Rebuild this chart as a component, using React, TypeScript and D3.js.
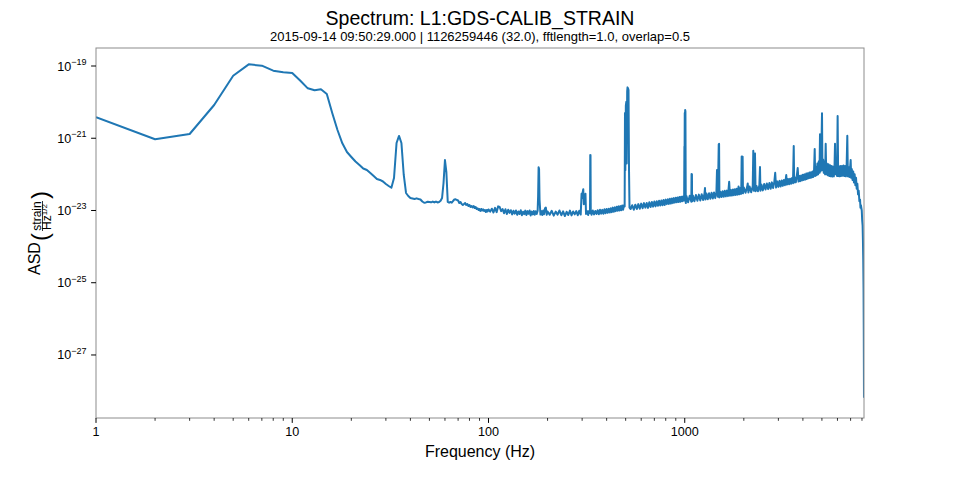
import React from 'react';
import * as d3 from 'd3';

const titleText = 'Spectrum: L1:GDS-CALIB_STRAIN';
const subtitleText = '2015-09-14 09:50:29.000 | 1126259446 (32.0), fftlength=1.0, overlap=0.5';
const xLabelText = 'Frequency (Hz)';
const xMajorTicks = [1, 10, 100, 1000];
const xTickLabels = ['1', '10', '100', '1000'];
const yTickExponents = [-19, -21, -23, -25, -27];
const xLimits = [1, 8192];
const yLimits = [1.8e-29, 3.15e-19];

// 1–100 Hz (1 Hz bins)
const seismicBand: [number, number][] = [
  [1, 3.8e-21], [2, 9.35e-22], [3, 1.31e-21], [4, 8.32e-21], [5, 5.39e-20], [6, 1.11e-19], [7, 1.02e-19],
  [8, 7.41e-20], [9, 6.69e-20], [10, 6.4e-20], [11, 3.92e-20], [12, 2.41e-20], [13, 2.12e-20], [14, 2.26e-20],
  [15, 1.68e-20], [16, 4.91e-21], [17, 1.69e-21], [18, 7.25e-22], [19, 4.16e-22], [20, 3.03e-22], [21, 2.27e-22],
  [22, 1.82e-22], [23, 1.45e-22], [24, 1.32e-22], [25, 1.09e-22], [26, 9.0e-23], [27, 7.45e-23], [28, 7.0e-23],
  [29, 6.35e-23], [30, 5.41e-23], [31, 4.77e-23], [32, 4.28e-23], [33, 7.94e-23], [34, 7.4e-22], [35, 1.16e-21],
  [36, 7.4e-22], [37, 9.61e-23], [38, 3.05e-23], [39, 2.52e-23], [40, 2.22e-23], [41, 2.15e-23], [42, 2.08e-23],
  [43, 2.17e-23], [44, 2.08e-23], [45, 2.02e-23], [46, 1.77e-23], [47, 1.64e-23], [48, 1.67e-23], [49, 1.75e-23],
  [50, 1.72e-23], [51, 1.68e-23], [52, 1.77e-23], [53, 1.67e-23], [54, 1.77e-23], [55, 1.67e-23], [56, 1.72e-23],
  [57, 1.87e-23], [58, 2.22e-23], [59, 5.77e-23], [60, 2.5e-22], [61, 1.16e-22], [62, 1.72e-23], [63, 1.64e-23],
  [64, 1.72e-23], [65, 1.64e-23], [66, 1.83e-23], [67, 2.02e-23], [68, 2.05e-23], [69, 1.95e-23], [70, 1.89e-23],
  [71, 1.61e-23], [72, 1.72e-23], [73, 1.51e-23], [74, 1.42e-23], [75, 1.51e-23], [76, 1.61e-23], [77, 1.42e-23],
  [78, 1.51e-23], [79, 1.33e-23], [80, 1.42e-23], [81, 1.25e-23], [82, 1.33e-23], [83, 1.21e-23], [84, 1.33e-23],
  [85, 1.17e-23], [86, 1.25e-23], [87, 1.1e-23], [88, 1.15e-23], [89, 1.03e-23], [90, 1.1e-23], [91, 9.7e-24],
  [92, 1.1e-23], [93, 1.0e-23], [94, 1.07e-23], [95, 9.7e-24], [96, 1.03e-23], [97, 9.1e-24], [98, 1.03e-23],
  [99, 9.4e-24], [100, 1.07e-23],
];

// 100–500 Hz
const midBand: [number, number][] = [
  [102, 9.3e-24], [104, 1.12e-23], [106, 8.8e-24], [108, 1.18e-23], [110, 9.0e-24], [112, 1.3e-23], [114, 1.25e-23],
  [116, 9.6e-24], [118, 1.1e-23], [120, 8.4e-24], [122, 1.08e-23], [124, 8.0e-24], [126, 1.05e-23], [128, 8.6e-24],
  [130, 1.02e-23], [132, 7.8e-24], [134, 9.8e-24], [136, 8.2e-24], [138, 1.0e-23], [140, 7.6e-24], [142, 9.4e-24],
  [144, 8.0e-24], [146, 1.02e-23], [148, 7.4e-24], [150, 9.2e-24], [152, 7.9e-24], [154, 9.9e-24], [156, 7.5e-24],
  [158, 9.6e-24], [160, 8.1e-24], [162, 1.0e-23], [164, 7.3e-24], [166, 9.3e-24], [168, 7.8e-24], [170, 9.7e-24],
  [172, 7.6e-24], [174, 9.5e-24], [176, 8.0e-24], [178, 9.8e-24], [179, 2.5e-23], [180, 1.57e-22], [181, 1.4e-22],
  [182, 2.0e-23], [184, 7.7e-24], [186, 9.6e-24], [188, 7.5e-24], [190, 1.0e-23], [192, 7.9e-24], [194, 1.15e-23],
  [196, 1.2e-23], [198, 7.6e-24], [200, 9.4e-24], [205, 7.6e-24], [210, 9.8e-24], [215, 7.2e-24], [220, 9.3e-24],
  [225, 7.7e-24], [230, 1.0e-23], [235, 7.4e-24], [240, 9.5e-24], [245, 7.0e-24], [250, 9.2e-24], [255, 7.5e-24],
  [260, 9.9e-24], [265, 7.3e-24], [270, 9.4e-24], [275, 7.8e-24], [280, 9.6e-24], [285, 7.4e-24], [290, 9.8e-24],
  [295, 7.7e-24], [298, 2.9e-23], [300, 2.2e-23], [302, 3.2e-23], [304, 3.9e-23], [306, 1.5e-23], [308, 1.95e-23],
  [310, 2.5e-23], [312, 2.9e-23], [314, 8.0e-24], [318, 9.6e-24], [322, 7.5e-24], [326, 9.9e-24], [329, 8.5e-24],
  [330, 3.44e-22], [331, 3.4e-22], [332, 9.0e-24], [335, 7.6e-24], [340, 1.0e-23], [345, 7.8e-24], [350, 9.7e-24],
  [355, 8.0e-24], [360, 1.02e-23], [365, 7.9e-24], [370, 1.05e-23], [375, 8.2e-24], [380, 1.04e-23], [385, 8.1e-24],
  [390, 1.08e-23], [395, 8.4e-24], [400, 1.1e-23], [405, 8.6e-24], [410, 1.12e-23], [415, 8.8e-24], [420, 1.15e-23],
  [425, 9.0e-24], [430, 1.2e-23], [435, 9.2e-24], [440, 1.22e-23], [445, 9.6e-24], [450, 1.27e-23], [455, 9.8e-24],
  [460, 1.3e-23], [465, 1.0e-23], [470, 1.32e-23], [475, 1.02e-23], [480, 1.38e-23], [485, 1.05e-23], [490, 1.4e-23],
  [494, 1.3e-23],
];

// violin modes ~500 Hz and 500–1000 Hz
const violinBand: [number, number][] = [
  [496, 5.0e-21], [498, 1.3e-22], [501, 8.0e-21], [504, 1.03e-20], [506, 2.0e-22], [509, 2.0e-20], [511, 2.56e-20],
  [514, 2.4e-20], [517, 2.17e-20], [520, 1.32e-22], [523, 1.2e-23], [530, 1.1e-23], [540, 1.4e-23], [550, 1.05e-23],
  [560, 1.45e-23], [570, 1.1e-23], [580, 1.5e-23], [590, 1.12e-23], [600, 1.55e-23], [610, 1.15e-23], [620, 1.6e-23],
  [630, 1.2e-23], [640, 1.62e-23], [650, 1.18e-23], [660, 1.7e-23], [670, 1.25e-23], [680, 1.72e-23], [690, 1.28e-23],
  [700, 1.78e-23], [710, 1.3e-23], [720, 1.8e-23], [730, 1.35e-23], [740, 1.85e-23], [750, 1.38e-23], [760, 1.9e-23],
  [770, 1.4e-23], [780, 1.95e-23], [790, 1.42e-23], [800, 2.0e-23], [810, 1.5e-23], [820, 2.05e-23], [830, 1.52e-23],
  [840, 2.1e-23], [850, 1.55e-23], [860, 2.15e-23], [870, 1.6e-23], [880, 2.2e-23], [890, 1.65e-23], [900, 2.25e-23],
  [910, 1.68e-23], [920, 2.3e-23], [930, 1.72e-23], [940, 2.35e-23], [950, 1.75e-23], [960, 2.4e-23], [970, 1.8e-23],
  [980, 2.45e-23], [990, 1.85e-23], [993, 1.9e-23], [996, 5.9e-22], [998, 3.0e-22], [1000, 5.0e-21], [1002, 3.0e-21],
  [1005, 6.05e-21], [1008, 5.5e-21], [1012, 1.6e-23],
];

// 1–2 kHz
const kiloBand: [number, number][] = [
  [1020, 2.5e-23], [1040, 1.7e-23], [1060, 2.55e-23], [1080, 1.75e-23], [1083, 1.02e-22], [1088, 1.0e-22],
  [1090, 1.8e-23], [1100, 2.6e-23], [1120, 1.8e-23], [1140, 2.7e-23], [1160, 1.85e-23], [1180, 2.75e-23],
  [1200, 1.9e-23], [1220, 2.8e-23], [1240, 1.95e-23], [1260, 2.9e-23], [1268, 4.2e-23], [1275, 2.0e-23],
  [1290, 2.95e-23], [1310, 2.05e-23], [1330, 3.0e-23], [1350, 2.1e-23], [1370, 3.1e-23], [1390, 2.15e-23],
  [1410, 3.15e-23], [1430, 2.2e-23], [1450, 3.2e-23], [1460, 1.32e-22], [1475, 2.4e-23], [1490, 6.8e-22],
  [1496, 7.0e-22], [1502, 2.3e-23], [1520, 3.3e-23], [1540, 2.35e-23], [1560, 3.4e-23], [1580, 2.4e-23],
  [1600, 3.5e-23], [1620, 2.45e-23], [1640, 3.55e-23], [1660, 2.5e-23], [1684, 6.2e-23], [1700, 2.55e-23],
  [1720, 3.7e-23], [1740, 2.6e-23], [1760, 3.8e-23], [1780, 2.65e-23], [1800, 3.9e-23], [1820, 2.7e-23],
  [1840, 4.0e-23], [1860, 2.75e-23], [1880, 4.6e-23], [1900, 2.8e-23], [1920, 4.2e-23], [1940, 2.9e-23],
  [1950, 3.1e-22], [1960, 2.5e-22], [1972, 3.1e-22], [1980, 3.0e-23], [2000, 4.3e-23],
];

// 2–4 kHz
const twoKiloBand: [number, number][] = [
  [2040, 3.1e-23], [2080, 4.5e-23], [2094, 5.6e-23], [2110, 3.15e-23], [2140, 4.6e-23], [2180, 3.2e-23],
  [2220, 4.7e-23], [2235, 4.5e-22], [2250, 3.5e-23], [2265, 3.5e-22], [2280, 3.8e-22], [2295, 3.4e-23],
  [2320, 4.8e-23], [2360, 3.4e-23], [2400, 5.0e-23], [2418, 1.6e-22], [2430, 3.5e-23], [2460, 5.2e-23],
  [2500, 3.6e-23], [2540, 5.4e-23], [2580, 3.8e-23], [2620, 5.6e-23], [2660, 3.9e-23], [2700, 5.8e-23],
  [2740, 4.0e-23], [2780, 6.0e-23], [2820, 4.2e-23], [2860, 6.2e-23], [2890, 1.11e-22], [2920, 4.3e-23],
  [2960, 6.4e-23], [3000, 4.5e-23], [3040, 6.6e-23], [3080, 4.6e-23], [3120, 6.8e-23], [3160, 4.8e-23],
  [3200, 7.0e-23], [3240, 5.0e-23], [3290, 9.6e-23], [3320, 5.2e-23], [3360, 7.4e-23], [3400, 5.3e-23],
  [3440, 7.6e-23], [3480, 5.5e-23], [3520, 7.9e-23], [3560, 5.7e-23], [3592, 6.1e-22], [3610, 6.0e-23],
  [3640, 8.3e-23], [3680, 6.0e-23], [3720, 8.6e-23], [3763, 1.5e-22], [3800, 6.3e-23], [3840, 9.0e-23],
  [3880, 6.5e-23], [3920, 9.3e-23], [3960, 6.8e-23], [4000, 9.8e-23],
];

// 4–8.192 kHz
const highBand: [number, number][] = [
  [4040, 7.0e-23], [4080, 1.0e-22], [4120, 7.2e-23], [4160, 1.05e-22], [4200, 7.5e-23], [4240, 1.08e-22],
  [4280, 7.8e-23], [4320, 1.12e-22], [4360, 8.0e-23], [4400, 1.15e-22], [4440, 8.2e-23], [4480, 1.2e-22],
  [4520, 8.5e-23], [4560, 1.3e-22], [4594, 5.0e-22], [4620, 9.0e-23], [4660, 1.6e-22], [4700, 9.5e-23],
  [4740, 2.0e-22], [4780, 1.0e-22], [4820, 2.3e-22], [4860, 1.1e-22], [4889, 1.3e-21], [4920, 1.2e-22],
  [4960, 2.5e-22], [5005, 4.95e-21], [5030, 1.3e-22], [5070, 2.6e-22], [5110, 1.1e-22], [5150, 2.3e-22],
  [5190, 1.0e-22], [5226, 7.0e-22], [5260, 1.0e-22], [5300, 2.0e-22], [5350, 9.5e-23], [5400, 1.9e-22],
  [5450, 9.0e-23], [5500, 1.8e-22], [5550, 8.8e-23], [5600, 1.7e-22], [5650, 8.7e-23], [5700, 1.65e-22],
  [5750, 8.8e-23], [5800, 1.8e-22], [5830, 7.0e-22], [5860, 1.0e-22], [5920, 1.7e-22], [5970, 9.0e-23],
  [6012, 4.1e-21], [6050, 9.0e-23], [6100, 1.65e-22], [6150, 8.8e-23], [6200, 1.7e-22], [6260, 9.0e-23],
  [6320, 1.7e-22], [6380, 9.2e-23], [6440, 1.75e-22], [6500, 9.0e-23], [6560, 1.7e-22], [6620, 8.8e-23],
  [6680, 1.65e-22], [6735, 1.18e-21], [6780, 8.8e-23], [6840, 1.6e-22], [6900, 8.5e-23], [6960, 1.55e-22],
  [7005, 2.5e-22], [7050, 8.0e-23], [7100, 1.4e-22], [7160, 7.0e-23], [7220, 1.2e-22], [7280, 6.0e-23],
  [7340, 1.0e-22], [7400, 5.0e-23], [7460, 8.0e-23], [7520, 4.0e-23], [7580, 5.5e-23], [7640, 2.8e-23],
  [7700, 3.5e-23], [7760, 1.8e-23], [7820, 2.0e-23], [7860, 1.2e-23], [7900, 1.4e-23], [7940, 1.17e-23],
  [7980, 1.0e-23], [8020, 5.3e-24], [8060, 3.8e-24], [8090, 1.5e-24], [8120, 4.3e-25], [8150, 6.3e-26],
  [8170, 4.9e-27], [8192, 6.5e-29],
];

const spectrum: [number, number][] = [
  ...seismicBand, ...midBand, ...violinBand, ...kiloBand, ...twoKiloBand, ...highBand,
];

const W = 960;
const H = 480;
const L = 96;
const R = 864;
const T = 48;
const B = 418;
const FONT = '"Liberation Sans", Arial, Helvetica, sans-serif';

export default function App() {
  const x = d3.scaleLog().domain(xLimits).range([L, R]);
  const y = d3.scaleLog().domain(yLimits).range([B, T]);
  const line = d3
    .line<[number, number]>()
    .x((d) => x(d[0]))
    .y((d) => y(d[1]));

  const minorTicks: number[] = [];
  for (const dec of [1, 10, 100, 1000]) {
    for (let k = 2; k <= 9; k++) {
      const v = dec * k;
      if (v <= xLimits[1]) minorTicks.push(v);
    }
  }

  return (
    <svg
      width={W}
      height={H}
      style={{ position: 'absolute', left: 0, top: 0, background: '#fff' }}
      fontFamily={FONT}
    >
      <rect x={0} y={0} width={W} height={H} fill="#fff" />
      <defs>
        <clipPath id="plotclip">
          <rect x={L} y={T} width={R - L} height={B - T} />
        </clipPath>
      </defs>

      <text x={480} y={25} textAnchor="middle" fontSize={19.5} fill="#000">
        {titleText}
      </text>
      <text x={480} y={40.5} textAnchor="middle" fontSize={13} fill="#000">
        {subtitleText}
      </text>

      <path
        d={line(spectrum) || ''}
        fill="none"
        stroke="#1f77b4"
        strokeWidth={2}
        strokeLinejoin="round"
        clipPath="url(#plotclip)"
      />

      <rect x={L} y={T} width={R - L} height={B - T} fill="none" stroke="#8c8c8c" strokeWidth={1} />

      {minorTicks.map((v) => (
        <line key={'m' + v} x1={x(v)} x2={x(v)} y1={B} y2={B + 2.8} stroke="#000" strokeWidth={0.8} />
      ))}
      {xMajorTicks.map((v, i) => (
        <g key={'x' + v}>
          <line x1={x(v)} x2={x(v)} y1={B} y2={B + 4.9} stroke="#000" strokeWidth={1} />
          <text x={x(v)} y={436} textAnchor="middle" fontSize={12.6} fill="#000">
            {xTickLabels[i]}
          </text>
        </g>
      ))}

      {yTickExponents.map((e) => {
        const yy = y(Math.pow(10, e));
        return (
          <g key={'y' + e}>
            <line x1={L - 4.9} x2={L} y1={yy} y2={yy} stroke="#000" strokeWidth={1} />
            <text x={86.5} y={yy + 4.5} textAnchor="end" fontSize={12.6} fill="#000">
              <tspan>10</tspan>
              <tspan dy={-5.5} fontSize={9}>{'\u2212' + Math.abs(e)}</tspan>
            </text>
          </g>
        );
      })}

      <text x={480} y={457} textAnchor="middle" fontSize={16} fill="#000">
        {xLabelText}
      </text>

      <g transform="translate(0,233) rotate(-90)">
        <text x={-42} y={39.5} fontSize={16} fill="#000">ASD</text>
        <text x={-8} y={47.5} fontSize={24} fill="#000" transform="scale(1,1)">(</text>
        <text x={17} y={40.5} textAnchor="middle" fontSize={12} fill="#000">strain</text>
        <line x1={2} x2={32} y1={42.5} y2={42.5} stroke="#000" strokeWidth={0.8} />
        <text x={16} y={51} textAnchor="middle" fontSize={12} fill="#000">
          <tspan>Hz</tspan>
          <tspan dy={-4} fontSize={8}>1/2</tspan>
        </text>
        <text x={34} y={47.5} fontSize={24} fill="#000">)</text>
      </g>
    </svg>
  );
}
